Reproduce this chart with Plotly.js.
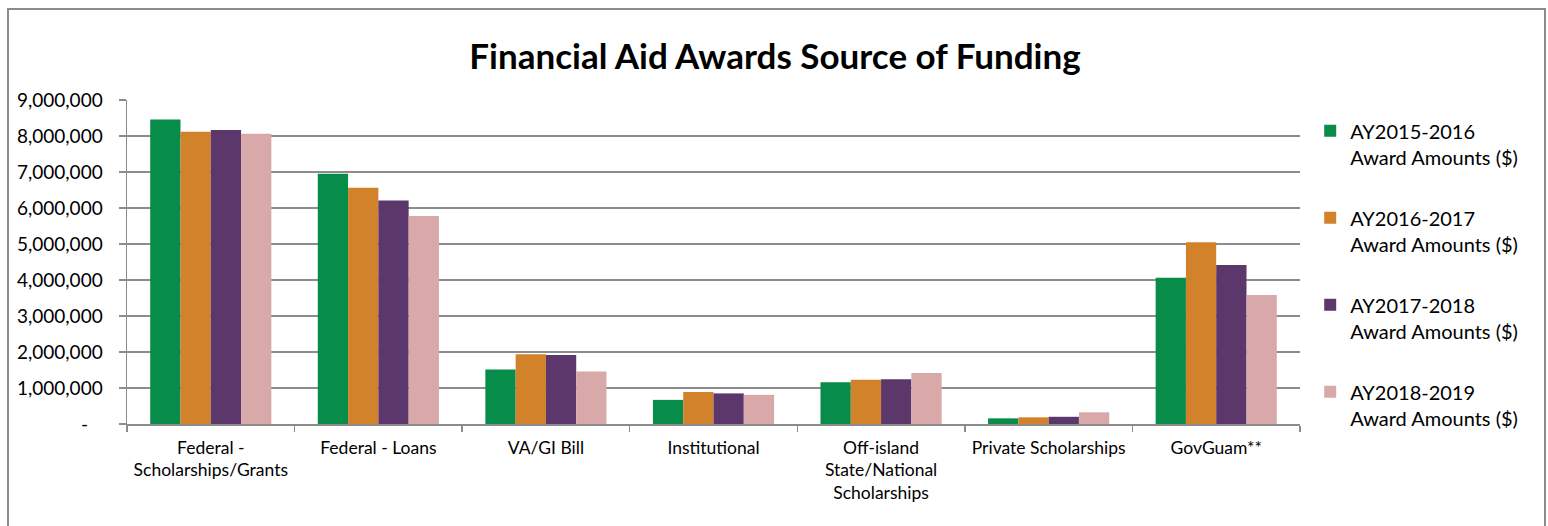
<!DOCTYPE html>
<html><head><meta charset="utf-8">
<script src="https://cdn.plot.ly/plotly-3.0.1.min.js"></script>
<style>
html,body{margin:0;padding:0;background:#fff;overflow:hidden;}
#chart{position:absolute;left:0;top:0;width:1548px;height:526px;}
#frame{position:absolute;left:7px;top:8px;width:1535px;height:600px;border:2px solid #8c8c8c;pointer-events:none;z-index:10;}
</style></head><body>
<div id="chart"></div><div id="frame"></div>
<script>
const categories = [
  "Federal -<br>Scholarships/Grants",
  "Federal - Loans",
  "VA/GI Bill",
  "Institutional",
  "Off-island<br>State/National<br>Scholarships",
  "Private Scholarships",
  "GovGuam**"
];
const seriesNames = [
  "AY2015-2016<br>Award Amounts ($)",
  "AY2016-2017<br>Award Amounts ($)",
  "AY2017-2018<br>Award Amounts ($)",
  "AY2018-2019<br>Award Amounts ($)"
];
const ay2015_2016 = [8460000, 6950000, 1515000, 670000, 1160000, 157000, 4060000];
const ay2016_2017 = [8120000, 6560000, 1940000, 890000, 1230000, 185000, 5050000];
const ay2017_2018 = [8170000, 6210000, 1920000, 850000, 1245000, 200000, 4420000];
const ay2018_2019 = [8060000, 5780000, 1460000, 810000, 1420000, 325000, 3580000];
const seriesColors = ["#078c4a", "#d3822c", "#5c376b", "#d9a8a8"];
const yTickVals = [0, 1000000, 2000000, 3000000, 4000000, 5000000, 6000000, 7000000, 8000000, 9000000];
const yTickText = ["-\u00a0\u00a0\u00a0", "1,000,000", "2,000,000", "3,000,000", "4,000,000", "5,000,000", "6,000,000", "7,000,000", "8,000,000", "9,000,000"];

const allValues = [ay2015_2016, ay2016_2017, ay2017_2018, ay2018_2019];
const traces = allValues.map((vals, i) => ({
  type: "bar",
  name: seriesNames[i],
  x: categories,
  y: vals,
  marker: {color: seriesColors[i], line: {width: 0}},
  legendgroup: "g" + i,
  hoverinfo: "y"
}));

const FONT = "Lato, 'Liberation Sans', sans-serif";
const layout = {
  width: 1548, height: 526,
  paper_bgcolor: "#ffffff", plot_bgcolor: "#ffffff",
  margin: {l: 127, r: 248, t: 100, b: 102},
  font: {family: FONT, color: "#000000", size: 18},
  title: {
    text: "<b>Financial Aid Awards Source of Funding</b>",
    font: {family: FONT, size: 35, color: "#000000"},
    x: 775/1548, xref: "container", xanchor: "center",
    y: 1 - 57/526, yref: "container", yanchor: "middle"
  },
  barmode: "group",
  bargap: 0.277,
  bargroupgap: 0,
  xaxis: {
    type: "category",
    showline: true, linecolor: "#8c8c8c", linewidth: 1.5,
    ticks: "outside", tickson: "boundaries", ticklen: 6, tickcolor: "#8c8c8c", tickwidth: 1.5,
    tickfont: {family: FONT, size: 17.5, color: "#000000"},
    showgrid: false, zeroline: false,
    ticklabelstandoff: 7
  },
  yaxis: {
    range: [0, 9000000],
    tickvals: yTickVals, ticktext: yTickText,
    showline: true, linecolor: "#8c8c8c", linewidth: 1.5,
    ticks: "outside", ticklen: 7, tickcolor: "#8c8c8c", tickwidth: 1.5,
    showgrid: true, gridcolor: "#8c8c8c", gridwidth: 1.5,
    zeroline: false,
    tickfont: {family: FONT, size: 19, color: "#000000"},
    ticklabelstandoff: 12
  },
  legend: {
    x: 1.0087, xanchor: "left",
    y: 0.965, yanchor: "top",
    valign: "top",
    tracegroupgap: 32,
    font: {family: FONT, size: 20, color: "#000000"},
    bgcolor: "rgba(0,0,0,0)",
    itemclick: false
  },
  showlegend: true
};

Plotly.newPlot("chart", traces, layout, {displayModeBar: false, staticPlot: true});
</script>
</body></html>
